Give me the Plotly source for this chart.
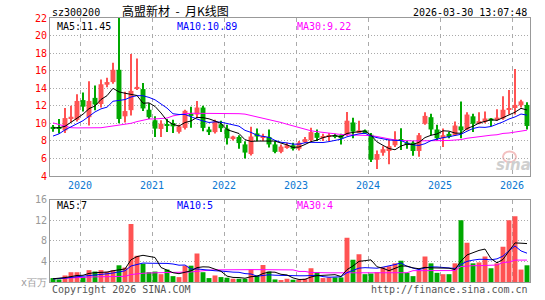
import plotly.graph_objects as go
import pandas as pd

# ---------------- data (monthly, Aug 2019 .. Mar 2026) ----------------
start_month = "2019-08-01"
opens = [9.6, 9.5, 9.2, 10.6, 10.4, 12.65, 10.7, 12.9, 12.2, 14.4,
         14.7, 16.1, 10.8, 11.5, 14.0, 13.9, 11.55, 10.35, 9.36, 9.85,
         10.04, 9.03, 9.48, 11.1, 11.0, 11.8, 9.3, 9.0, 9.9, 9.4,
         8.3, 8.45, 7.6, 6.5, 8.85, 8.35, 8.45, 7.6, 6.75, 7.3,
         7.5, 7.1, 7.85, 8.1, 8.9, 8.35, 8.5, 8.65, 8.65, 8.75,
         10.1, 9.0, 9.2, 8.7, 5.85, 6.65, 6.85, 7.5, 8.15, 7.8,
         7.8, 6.85, 9.95, 10.7, 9.3, 8.3, 8.8, 8.65, 9.65, 9.3,
         10.8, 9.95, 10.15, 10.55, 10.4, 10.55, 11.55, 11.75, 12.05, 12.1]
highs = [9.8, 10.5, 11.75, 12.0, 13.3, 13.5, 14.8, 14.3, 15.0, 15.2,
         16.9, 22.0, 13.6, 17.9, 17.4, 14.6, 12.3, 10.8, 10.35, 10.5,
         10.4, 9.85, 11.55, 11.9, 12.55, 12.0, 9.6, 10.4, 10.3, 9.85,
         8.6, 8.65, 7.97, 9.6, 9.4, 8.8, 9.3, 7.97, 7.6, 7.8,
         7.8, 8.0, 8.45, 9.5, 9.3, 8.8, 8.9, 8.8, 8.8, 11.3,
         10.65, 10.3, 9.3, 8.9, 6.9, 7.4, 8.15, 9.1, 9.45, 8.0,
         8.0, 8.9, 11.25, 11.1, 9.85, 9.4, 9.0, 10.2, 12.5, 11.25,
         11.1, 11.25, 11.35, 10.6, 11.6, 13.1, 13.8, 16.2, 12.7, 12.4]
lows = [9.05, 8.85, 8.9, 10.1, 10.2, 11.35, 9.75, 11.5, 11.8, 14.1,
        14.5, 10.0, 10.1, 10.9, 13.8, 11.4, 10.5, 8.45, 8.43, 9.0,
        8.9, 8.84, 9.3, 9.5, 10.6, 9.1, 8.66, 8.85, 9.0, 7.6,
        8.05, 7.1, 6.0, 6.35, 7.95, 8.0, 7.25, 6.6, 6.6, 7.1,
        6.9, 6.9, 7.75, 7.95, 8.0, 8.0, 7.95, 8.3, 7.6, 8.6,
        8.3, 8.9, 8.8, 5.6, 4.8, 6.3, 5.35, 7.3, 6.95, 7.1,
        6.3, 6.2, 9.85, 8.65, 8.0, 7.3, 8.3, 8.6, 8.3, 9.2,
        9.0, 9.9, 10.0, 9.7, 10.3, 10.4, 11.0, 11.0, 11.8, 9.3]
closes = [9.35, 9.4, 10.6, 10.75, 12.55, 11.9, 12.55, 12.15, 14.45, 14.7,
          16.1, 10.5, 11.4, 13.7, 14.15, 11.7, 10.7, 9.4, 9.96, 9.75,
          9.66, 9.66, 11.43, 10.85, 11.8, 9.48, 9.0, 10.2, 9.45, 8.3,
          8.5, 7.75, 6.67, 8.5, 8.5, 8.55, 7.6, 6.75, 7.35, 7.5,
          7.1, 7.8, 8.2, 9.0, 8.35, 8.5, 8.65, 8.5, 8.3, 10.3,
          9.05, 9.2, 8.85, 5.85, 6.5, 7.05, 7.4, 8.15, 8.0, 7.55,
          6.85, 8.65, 10.85, 9.3, 8.3, 8.65, 8.45, 9.75, 9.2, 11.0,
          9.95, 10.25, 10.55, 10.3, 10.65, 11.55, 11.75, 12.1, 12.5, 9.7]
volumes = [0.76, 0.5, 1.27, 1.9, 1.9, 0.95, 2.3, 2.03, 2.3, 2.0,
           2.3, 3.24, 2.8, 11.24, 5.08, 3.55, 1.9, 2.03, 1.52, 2.41,
           1.14, 0.95, 3.17, 3.17, 5.52, 1.9, 0.76, 1.27, 0.95, 0.83,
           0.63, 0.63, 0.63, 2.41, 1.27, 3.3, 2.03, 0.5, 0.38, 0.63,
           0.44, 0.5, 0.63, 2.67, 1.9, 0.76, 0.89, 0.89, 0.89, 8.57,
           4.32, 5.4, 1.52, 1.65, 1.9, 2.86, 3.05, 3.62, 4.13, 1.78,
           1.14, 2.22, 4.95, 3.62, 1.78, 1.52, 1.52, 3.62, 12.0, 7.6,
           3.62, 3.8, 4.95, 2.67, 3.62, 6.86, 12.0, 12.76, 2.41, 3.24]
# moving averages: values before the window fills
ma5_head = [9.48, 9.5, 9.66, 10.1]
ma10_head = [8.55, 8.8, 9.25, 9.6, 9.9, 10.3, 10.8, 11.3, 11.65]
ma30 = [10.05, 9.85, 9.65, 9.5, 9.48, 9.48, 9.48, 9.48, 9.5, 9.6,
        9.7, 9.8, 9.9, 10.0, 10.2, 10.35, 10.5, 10.5, 10.55, 10.6,
        10.85, 11.0, 11.1, 11.15, 11.15, 11.15, 11.15, 11.15, 11.15, 11.15,
        11.1, 11.1, 11.05, 10.9, 10.75, 10.6, 10.45, 10.3, 10.1, 9.9,
        9.7, 9.5, 9.3, 9.15, 9.05, 8.95, 8.85, 8.78, 8.73, 8.7,
        8.68, 8.65, 8.62, 8.6, 8.5, 8.35, 8.2, 8.1, 8.05, 8.0,
        8.0, 8.0, 8.0, 8.0, 8.02, 8.05, 8.05, 8.1, 8.15, 8.3,
        8.4, 8.45, 8.6, 8.65, 8.7, 8.85, 8.9, 9.0, 9.15, 9.22]
vma5_head = [0.63, 0.7, 0.85, 1.05]
vma10_head = [0.6, 0.65, 0.75, 0.9, 1.0, 1.1, 1.25, 1.35, 1.45]
vma30 = [0.63, 0.66, 0.7, 0.75, 0.8, 0.88, 0.95, 1.0, 1.02, 1.05,
         1.06, 1.08, 1.1, 1.45, 1.6, 1.7, 1.75, 1.8, 1.85, 1.88,
         1.9, 1.9, 1.92, 1.95, 2.1, 2.2, 2.3, 2.35, 2.38, 2.4,
         2.4, 2.4, 2.4, 2.4, 2.4, 2.4, 2.35, 2.35, 2.35, 2.35,
         2.35, 2.05, 2.05, 1.85, 1.78, 1.78, 1.78, 1.78, 1.78, 1.78,
         1.78, 1.78, 1.78, 1.78, 1.78, 1.78, 1.78, 1.78, 1.78, 1.8,
         2.2, 2.2, 2.22, 2.22, 2.22, 2.22, 2.22, 2.22, 3.0, 3.15,
         3.17, 3.17, 3.17, 3.2, 3.3, 3.8, 3.85, 4.25, 4.25, 4.25]
price_ma_labels = ["MA5:11.45", "MA10:10.89", "MA30:9.22"]
vol_ma_labels = ["MA5:7", "MA10:5", "MA30:4"]
stock_code = "sz300200"
title_text = "高盟新材\u00a0\u00a0-\u00a0\u00a0月K线图"
timestamp = "2026-03-30 13:07:48"
vol_tick_vals = [0, 4, 8, 12, 16]
vol_tick_text = ["x百万", "4", "8", "12", "16"]

# ---------------- derived ----------------
n = len(closes)
idx = list(range(n))
months = pd.date_range(start_month, periods=n, freq="MS")
year_pos = [i - 0.5 for i, m in enumerate(months) if m.month == 1]
year_txt = [str(months[i].year) for i, m in enumerate(months) if m.month == 1]


def rolling(vals, w, head):
    return [head[i] if i < w - 1 else sum(vals[i - w + 1:i + 1]) / w for i in range(len(vals))]


ma5 = rolling(closes, 5, ma5_head)
ma10 = rolling(closes, 10, ma10_head)
vma5 = rolling(volumes, 5, vma5_head)
vma10 = rolling(volumes, 10, vma10_head)

RED, GREEN = "#ff5353", "#00a800"
up = [c >= o for o, c in zip(opens, closes)]
cols = [RED if u else GREEN for u in up]

fig = go.Figure()
# wicks
fig.add_trace(go.Bar(x=idx, y=[h - l for h, l in zip(highs, lows)], base=lows, width=0.17,
                     marker=dict(color=cols, line=dict(width=0)), xaxis="x", yaxis="y"))
# bodies
fig.add_trace(go.Bar(x=idx, y=[max(abs(c - o), 0.1) for o, c in zip(opens, closes)],
                     base=[min(o, c) for o, c in zip(opens, closes)], width=0.82,
                     marker=dict(color=cols, line=dict(width=0)), xaxis="x", yaxis="y"))
for arr, col in ((ma30, "#ff00ff"), (ma10, "#0000ff"), (ma5, "#000000")):
    fig.add_trace(go.Scatter(x=idx, y=arr, mode="lines", line=dict(color=col, width=1),
                             xaxis="x", yaxis="y"))
# volume
fig.add_trace(go.Bar(x=idx, y=volumes, width=0.82, marker=dict(color=cols, line=dict(width=0)),
                     xaxis="x2", yaxis="y2"))
for arr, col in ((vma30, "#ff00ff"), (vma10, "#0000ff"), (vma5, "#000000")):
    fig.add_trace(go.Scatter(x=idx, y=arr, mode="lines", line=dict(color=col, width=1),
                             xaxis="x2", yaxis="y2"))

W, H = 545, 300
L, R, T, B = 50, 15, 16, 15
PW, PH = W - L - R, H - T - B
MONO = "DejaVu Sans Mono"


def px(x):
    return (x - L) / PW


def py(y):
    return (H - B - y) / PH


axis_common = dict(showline=True, linecolor="#999999", linewidth=1, mirror=True,
                   zeroline=False, ticks="", fixedrange=True)
fig.update_layout(
    width=W, height=H, margin=dict(l=L, r=R, t=T, b=B, pad=0),
    paper_bgcolor="white", plot_bgcolor="white", showlegend=False,
    barmode="overlay", hovermode=False,
    font=dict(family=MONO, size=10, color="#000"),
    xaxis=dict(range=[-0.5, n - 0.5], domain=[0, 1], anchor="y",
               tickvals=year_pos, ticktext=year_txt,
               tickfont=dict(color="#0a78d2", size=10, family=MONO),
               showgrid=True, gridcolor="#aaaaaa", griddash="4px,4px", gridwidth=1,
               **axis_common),
    yaxis=dict(range=[4, 22], dtick=2, domain=[py(177), 1], anchor="x",
               tickfont=dict(color="#ff0000", size=10, family=MONO),
               showgrid=True, gridcolor="#aaaaaa", griddash="1px,2px", gridwidth=1,
               **axis_common),
    xaxis2=dict(range=[-0.5, n - 0.5], domain=[0, 1], anchor="y2", matches="x",
                tickvals=year_pos, showticklabels=False,
                showgrid=True, gridcolor="#aaaaaa", griddash="4px,4px", gridwidth=1,
                **axis_common),
    yaxis2=dict(range=[0, 16], domain=[0, py(201)], anchor="x2",
                tickvals=vol_tick_vals, ticktext=vol_tick_text,
                tickfont=dict(color="#999999", size=10, family=MONO),
                showgrid=True, gridcolor="#aaaaaa", griddash="1px,2px", gridwidth=1,
                **axis_common),
)

ann = []


def add(text, x, y, xanchor="left", color="#000", size=10, family=MONO, **kw):
    ann.append(dict(text=text, x=px(x), y=py(y), xref="paper", yref="paper",
                    xanchor=xanchor, yanchor="middle", showarrow=False,
                    font=dict(color=color, size=size, family=family), **kw))


add(stock_code, 50, 10)
add(title_text, 120, 8.5, xanchor="left", size=12, family="Noto Sans CJK SC")
add(timestamp, 529, 10, xanchor="right")
ma_cols = ["#000000", "#0000ff", "#ff00ff"]
for k, (t, c) in enumerate(zip(price_ma_labels, ma_cols)):
    add(t, 55 + 120 * k, 24.5, color=c)
for k, (t, c) in enumerate(zip(vol_ma_labels, ma_cols)):
    add(t, 55 + 120 * k, 207, color=c)
add("Copyright 2026 SINA.COM", 50, 293, color="#555555")
add("http://finance.sina.com.cn", 530, 293, xanchor="right", color="#555555")
add("<b><i>sina</i></b>", 513, 166, xanchor="center", color="#cfcfcf", size=15, family="DejaVu Sans")
fig.update_layout(annotations=ann)
# faint logo mark above the watermark text
fig.add_shape(type="circle", xref="paper", yref="paper",
              x0=px(503), x1=px(516), y0=py(163), y1=py(152),
              line=dict(color="#f3c0c0", width=2), fillcolor="rgba(0,0,0,0)", layer="below")

fig.write_html("out.html")
